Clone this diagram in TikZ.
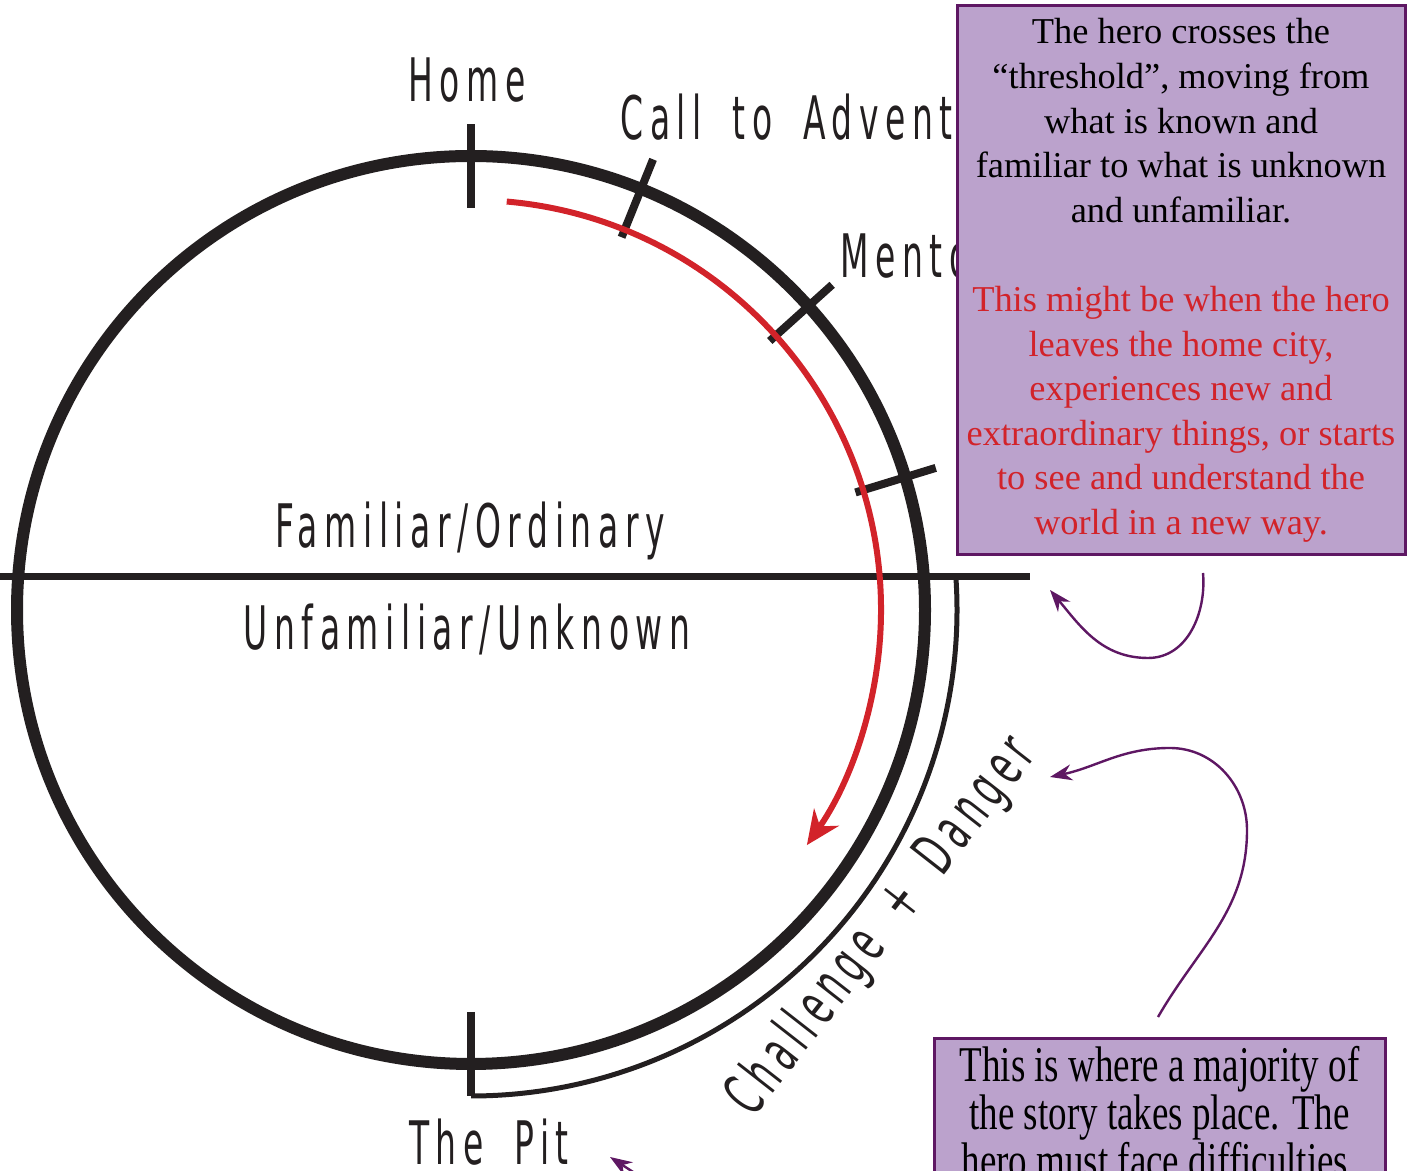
\documentclass[tikz,border=0pt]{standalone}
\usepackage{fontspec}
\setmainfont{Liberation Serif}
\newfontfamily\handfont[FakeStretch=0.55,LetterSpace=11,WordSpace=1.8]{DejaVu Sans}
\newfontfamily\narrowfont[FakeStretch=0.74]{Liberation Serif}
\usetikzlibrary{arrows.meta}

\definecolor{ink}{HTML}{231F20}
\definecolor{pathred}{HTML}{D2232A}
\definecolor{boxfill}{HTML}{BBA2CC}
\definecolor{boxline}{HTML}{5E1763}
\newcommand\redline[1]{\textcolor{pathred}{#1}}

\tikzset{
  stage/.style={font=\handfont\fontsize{30}{36}\selectfont, text=ink, anchor=base, inner sep=0pt},
  tick/.style={ink, line width=4pt},
  infobox/.style={draw=boxline, fill=boxfill, line width=1.5pt, align=center, inner sep=2pt},
  callout/.style={boxline, line width=1.2pt, -{Stealth[length=11pt,width=8pt]}},
}

\begin{document}
\begin{tikzpicture}[x=0.5pt,y=0.5pt]
  \useasboundingbox (0,0) rectangle (1407,1171);
  \clip (0,0) rectangle (1407,1171);
  \coordinate (c) at (471,561);

  % circle of the journey
  \draw[ink, line width=6pt] (c) circle[radius=454];
  \foreach \a/\n in {90/home,68/call,42/mentor,17/threshold,-90/pit}
    \draw[tick] ([shift={(\a:402)}]c) coordinate (\n-in) -- ([shift={(\a:486)}]c) coordinate (\n-out);

  % border between the two worlds
  \coordinate (west) at (0,594);
  \coordinate (east) at (1030,594);
  \draw[ink, line width=3.5pt] (west) -- (east);

  % path of the hero
  \draw[pathred, line width=3pt, -{Stealth[length=17pt,width=15pt]}]
    ([shift={(85:410)}]c) arc[start angle=85, end angle=-35, radius=410];
  \draw[ink, line width=2.5pt]
    ([shift={(4:486)}]c) arc[start angle=4, end angle=-90, radius=486];

  % stages
  \node[stage] (home) at (467,1069) {Home};
  \node[stage, anchor=base west] (call) at (620,1031) {Call to Adventure};
  \node[stage, anchor=base west] (mentor) at (840,893) {Mentor};
  \node[stage] (familiar) at (470,623) {Familiar/Ordinary};
  \node[stage] (unfamiliar) at (467,521) {Unfamiliar/Unknown};
  \node[stage] (thepit) at (489,6) {The Pit};
  \node[stage, anchor=center, rotate=52] (challenge) at (882,244) {Challenge + Danger};

  % notes
  \node[infobox, minimum width=224pt, minimum height=274.5pt,
        font=\fontsize{18.2}{22.3}\selectfont] (threshold-note) at (1181,890.5)
    {The hero crosses the\\ “threshold”, moving from\\ what is known and\\
     familiar to what is unknown\\ and unfamiliar.\\[22.3pt]
     \redline{This might be when the hero}\\ \redline{leaves the home city,}\\
     \redline{experiences new and}\\ \redline{extraordinary things, or starts}\\
     \redline{to see and understand the}\\ \redline{world in a new way.}};
  \node[infobox, anchor=north, minimum width=225.5pt, inner ysep=4pt,
        font=\narrowfont\fontsize{25}{22.5}\selectfont] (story-note) at (1159.5,134)
    {This is where a majority of\\ the story takes place. The\\ hero must face difficulties,};

  \coordinate (a1-start) at (1203,598);
  \coordinate (a1-low) at (1148,513);
  \coordinate (a1-end) at (1050,581);
  \draw[callout] (a1-start) to[out=-85,in=0] (a1-low) to[out=180,in=-50] (a1-end);

  \coordinate (a2-start) at (1158,154);
  \coordinate (a2-right) at (1247,341);
  \coordinate (a2-top) at (1170,423);
  \coordinate (a2-end) at (1050,394);
  \draw[callout] (a2-start) to[out=60,in=-90] (a2-right) to[out=90,in=0] (a2-top) to[out=180,in=12] (a2-end);

  \coordinate (a3-start) at (650,-12);
  \coordinate (a3-end) at (610,14);
  \draw[callout] (a3-start) -- (a3-end);
\end{tikzpicture}
\end{document}
